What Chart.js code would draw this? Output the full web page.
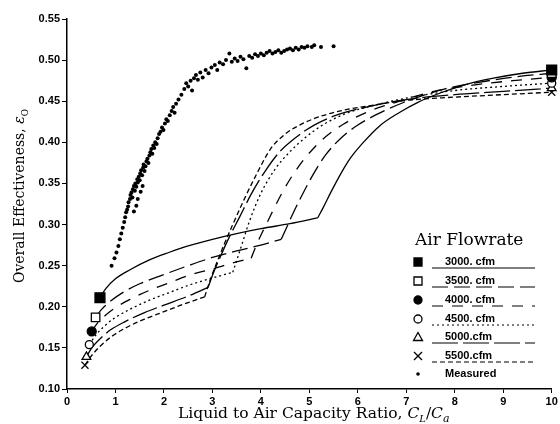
<!DOCTYPE html>
<html>
<head>
<meta charset="utf-8">
<script src="https://cdn.jsdelivr.net/npm/chart.js@4.4.1/dist/chart.umd.min.js"></script>
<style>
  html, body { margin: 0; padding: 0; background: #fff; }
</style>
</head>
<body>
<canvas id="chart" width="560" height="424"></canvas>
<script>
// series
const flowLabels = ['3000. cfm', '3500. cfm', '4000. cfm', '4500. cfm', '5000.cfm', '5500.cfm'];

const x3000 = [0.68, 0.8, 1.0, 1.3, 1.7, 2.1, 2.5, 3.0, 3.5, 4.0, 4.6, 5.17, 5.28, 5.45, 5.65, 5.85, 6.1, 6.45, 6.85, 7.25, 7.7, 8.2, 8.8, 9.4, 10];
const y3000 = [0.211, 0.222, 0.234, 0.245, 0.257, 0.266, 0.274, 0.282, 0.289, 0.295, 0.301, 0.308, 0.320, 0.340, 0.362, 0.381, 0.399, 0.420, 0.436, 0.449, 0.460, 0.470, 0.478, 0.484, 0.488];

const x3500 = [0.59, 0.7, 0.9, 1.2, 1.5, 1.9, 2.5, 3.0, 3.5, 4.0, 4.42, 4.52, 4.65, 4.8, 5.05, 5.34, 5.65, 6.0, 6.5, 7.1, 7.8, 8.6, 9.3, 10];
const y3500 = [0.187, 0.196, 0.207, 0.219, 0.228, 0.237, 0.250, 0.260, 0.268, 0.275, 0.282, 0.295, 0.312, 0.330, 0.358, 0.385, 0.405, 0.421, 0.437, 0.452, 0.465, 0.474, 0.480, 0.484];

const x4000 = [0.51, 0.6, 0.8, 1.0, 1.3, 1.7, 2.1, 2.5, 3.0, 3.4, 3.8, 3.9, 4.05, 4.2, 4.45, 4.7, 4.97, 5.3, 5.7, 6.2, 6.8, 7.5, 8.3, 9.2, 10];
const y4000 = [0.170, 0.178, 0.190, 0.199, 0.209, 0.220, 0.229, 0.238, 0.246, 0.253, 0.259, 0.274, 0.293, 0.311, 0.340, 0.364, 0.385, 0.405, 0.422, 0.437, 0.449, 0.461, 0.469, 0.475, 0.479];

const x4500 = [0.46, 0.6, 0.8, 1.0, 1.3, 1.7, 2.1, 2.5, 3.0, 3.42, 3.5, 3.62, 3.77, 4.0, 4.3, 4.59, 4.9, 5.3, 5.8, 6.4, 7.2, 8.0, 9.0, 10];
const y4500 = [0.154, 0.166, 0.178, 0.187, 0.197, 0.208, 0.217, 0.226, 0.235, 0.242, 0.256, 0.278, 0.305, 0.338, 0.368, 0.388, 0.405, 0.422, 0.436, 0.446, 0.456, 0.463, 0.468, 0.472];

const x5000 = [0.40, 0.5, 0.7, 0.9, 1.2, 1.6, 2.0, 2.5, 2.91, 3.0, 3.15, 3.35, 3.56, 3.8, 4.1, 4.38, 4.7, 5.1, 5.6, 6.2, 7.0, 8.0, 9.0, 10];
const y5000 = [0.139, 0.149, 0.162, 0.172, 0.182, 0.193, 0.202, 0.213, 0.2235, 0.238, 0.259, 0.285, 0.309, 0.337, 0.366, 0.388, 0.405, 0.421, 0.434, 0.443, 0.452, 0.458, 0.462, 0.466];

const x5500 = [0.37, 0.5, 0.7, 0.9, 1.2, 1.6, 2.0, 2.4, 2.84, 2.95, 3.1, 3.25, 3.42, 3.65, 3.9, 4.2, 4.5, 4.8, 5.2, 5.7, 6.3, 7.0, 8.0, 9.0, 10];
const y5500 = [0.129, 0.140, 0.153, 0.163, 0.174, 0.185, 0.194, 0.203, 0.212, 0.232, 0.255, 0.277, 0.300, 0.330, 0.360, 0.392, 0.410, 0.421, 0.431, 0.439, 0.445, 0.451, 0.455, 0.458, 0.461];

// index of the kink (where the curve turns up) in each series
const kinkIndex = [11, 10, 10, 9, 8, 8];

// measured points
const measX = [0.92, 0.98, 1.02, 1.06, 1.09, 1.12, 1.15, 1.18, 1.20, 1.22, 1.24, 1.26, 1.27, 1.30, 1.31, 1.33, 1.35, 1.36, 1.38, 1.40,
  1.41, 1.43, 1.45, 1.46, 1.48, 1.50, 1.51, 1.53, 1.55, 1.57, 1.58, 1.60, 1.62, 1.64, 1.66, 1.68, 1.70, 1.72, 1.74, 1.76,
  1.78, 1.80, 1.82, 1.85, 1.87, 1.90, 1.93, 1.96, 1.99, 2.02, 2.05, 2.08, 2.12, 2.16, 2.19, 2.22, 2.25, 2.30, 2.36, 2.42,
  2.46, 2.50, 2.55, 2.58, 2.62, 2.66, 2.70, 2.75, 2.80, 2.86, 2.92, 2.98, 3.05, 3.10, 3.15, 3.22, 3.28, 3.35, 3.40, 3.46,
  3.52, 3.58, 3.64, 3.70, 3.76, 3.82, 3.88, 3.94, 4.00, 4.06, 4.12, 4.18, 4.24, 4.30, 4.36, 4.42, 4.48, 4.54, 4.60, 4.66,
  4.72, 4.78, 4.84, 4.90, 4.96, 5.05, 5.10, 5.24, 5.50, 1.38, 1.43, 1.46, 1.52, 1.56];
const measY = [0.250, 0.259, 0.266, 0.274, 0.282, 0.289, 0.296, 0.303, 0.309, 0.315, 0.318, 0.322, 0.327, 0.331, 0.336, 0.339, 0.333, 0.343, 0.347, 0.341,
  0.350, 0.346, 0.355, 0.351, 0.358, 0.354, 0.362, 0.366, 0.360, 0.369, 0.373, 0.365, 0.371, 0.377, 0.380, 0.375, 0.384, 0.388, 0.392, 0.386,
  0.396, 0.393, 0.400, 0.398, 0.405, 0.410, 0.413, 0.418, 0.415, 0.423, 0.428, 0.426, 0.433, 0.438, 0.443, 0.436, 0.447, 0.452, 0.458, 0.465,
  0.472, 0.468, 0.475, 0.463, 0.478, 0.482, 0.476, 0.485, 0.479, 0.488, 0.484, 0.491, 0.494, 0.488, 0.497, 0.495, 0.500, 0.508, 0.498, 0.502,
  0.499, 0.504, 0.501, 0.490, 0.505, 0.503, 0.507, 0.505, 0.508, 0.506, 0.509, 0.511, 0.508, 0.510, 0.512, 0.509, 0.511, 0.513, 0.514, 0.512,
  0.515, 0.513, 0.516, 0.515, 0.517, 0.516, 0.518, 0.516, 0.517, 0.316, 0.323, 0.331, 0.340, 0.347];

// line styles / markers per flowrate
const dashes = [[], [16, 6], [11, 9], [2, 3], [26, 5], [5, 3]];
const markers = ['rect', 'rect', 'circle', 'circle', 'triangle', 'crossRot'];
const filled = [true, false, true, false, false, false];
const markerSize = [7, 6, 4.5, 4, 5, 5];

// one piece of a curve; marker only on the outer end
function piece(i, pts, markFirst) {
  var last = pts.length - 1;
  return {
    label: flowLabels[i],
    data: pts,
    borderColor: '#000',
    borderWidth: 1.3,
    borderDash: dashes[i],
    cubicInterpolationMode: 'monotone',
    fill: false,
    pointStyle: markers[i],
    pointRadius: function(ctx) {
      var k = ctx.dataIndex;
      return (markFirst ? k === 0 : k === last) ? markerSize[i] : 0;
    },
    pointBackgroundColor: filled[i] ? '#000' : '#fff',
    pointBorderColor: '#000',
    pointBorderWidth: 1.3,
    clip: false
  };
}

function curve(i, xs, ys) {
  var pts = xs.map(function(x, k) { return { x: x, y: ys[k] }; });
  var c = kinkIndex[i];
  return [piece(i, pts.slice(0, c + 1), true), piece(i, pts.slice(c), false)];
}

var datasets = [].concat(
  curve(0, x3000, y3000),
  curve(1, x3500, y3500),
  curve(2, x4000, y4000),
  curve(3, x4500, y4500),
  curve(4, x5000, y5000),
  curve(5, x5500, y5500),
  [{
    label: 'Measured',
    data: measX.map(function(x, k) { return { x: x, y: measY[k] }; }),
    showLine: false,
    pointStyle: 'circle',
    pointRadius: 2,
    pointBackgroundColor: '#000',
    pointBorderColor: '#000',
    pointBorderWidth: 0
  }]
);

// draw one line of text made of pieces (for subscripts / italics)
function richText(ctx, parts, x, y) {
  var cx = x;
  parts.forEach(function(p) {
    ctx.font = p.font;
    ctx.fillText(p.t, cx, y + (p.dy || 0));
    cx += ctx.measureText(p.t).width;
  });
}
function richWidth(ctx, parts) {
  var w = 0;
  parts.forEach(function(p) { ctx.font = p.font; w += ctx.measureText(p.t).width; });
  return w;
}

function drawMarker(ctx, style, fill, x, y) {
  ctx.save();
  ctx.lineWidth = 1.3;
  ctx.strokeStyle = '#000';
  ctx.fillStyle = fill ? '#000' : '#fff';
  ctx.beginPath();
  if (style === 'rect') {
    ctx.rect(x - 4, y - 4, 8, 8);
    ctx.fill(); ctx.stroke();
  } else if (style === 'circle') {
    ctx.arc(x, y, 4, 0, Math.PI * 2);
    ctx.fill(); ctx.stroke();
  } else if (style === 'triangle') {
    ctx.moveTo(x, y - 4.5); ctx.lineTo(x + 4.5, y + 3.5); ctx.lineTo(x - 4.5, y + 3.5); ctx.closePath();
    ctx.stroke();
  } else if (style === 'crossRot') {
    ctx.moveTo(x - 4, y - 4); ctx.lineTo(x + 4, y + 4);
    ctx.moveTo(x + 4, y - 4); ctx.lineTo(x - 4, y + 4);
    ctx.stroke();
  }
  ctx.restore();
}

const decorations = {
  id: 'decorations',
  afterDraw: function(chart) {
    var ctx = chart.ctx;
    ctx.save();
    ctx.fillStyle = '#000';
    ctx.textBaseline = 'alphabetic';

    // y axis title
    var yParts = [
      { t: 'Overall Effectiveness, ', font: '14px "DejaVu Serif"' },
      { t: 'ε', font: 'italic 14px "DejaVu Serif"' },
      { t: 'O', font: '9px "DejaVu Serif"', dy: 4 }
    ];
    ctx.save();
    ctx.translate(24, 196);
    ctx.rotate(-Math.PI / 2);
    richText(ctx, yParts, -richWidth(ctx, yParts) / 2, 0);
    ctx.restore();

    // x axis title
    var xParts = [
      { t: 'Liquid to Air Capacity Ratio, ', font: '15.5px "DejaVu Serif"' },
      { t: 'C', font: 'italic 15.5px "DejaVu Serif"' },
      { t: 'L', font: 'italic 10px "DejaVu Serif"', dy: 4 },
      { t: '/', font: '15.5px "DejaVu Serif"' },
      { t: 'C', font: 'italic 15.5px "DejaVu Serif"' },
      { t: 'a', font: 'italic 11px "DejaVu Serif"', dy: 4 }
    ];
    richText(ctx, xParts, 178, 418);

    // legend
    ctx.font = '17px "DejaVu Serif"';
    ctx.textBaseline = 'middle';
    ctx.fillText('Air Flowrate', 415, 241);

    var rows = [262, 281, 300, 319, 337, 356];
    ctx.font = 'bold 11px "Liberation Sans"';
    rows.forEach(function(ry, i) {
      drawMarker(ctx, markers[i], filled[i], 418, ry);
      ctx.fillText(flowLabels[i], 445, ry);
      ctx.save();
      ctx.lineWidth = 1.2;
      ctx.setLineDash(dashes[i]);
      ctx.beginPath();
      ctx.moveTo(432, ry + 6);
      ctx.lineTo(535, ry + 6);
      ctx.stroke();
      ctx.restore();
    });
    ctx.beginPath();
    ctx.arc(418, 374, 1.8, 0, Math.PI * 2);
    ctx.fill();
    ctx.fillText('Measured', 445, 374);

    ctx.restore();
  }
};

new Chart(document.getElementById('chart'), {
  type: 'line',
  data: { datasets: datasets },
  options: {
    responsive: false,
    animation: false,
    devicePixelRatio: 1,
    events: [],
    layout: { padding: { left: 0, right: 7, top: 19, bottom: 0 } },
    scales: {
      x: {
        type: 'linear',
        min: 0,
        max: 10,
        ticks: { stepSize: 1, color: '#000', font: { family: 'Liberation Sans', size: 11, weight: 'bold' }, padding: 2 },
        grid: { drawOnChartArea: false, drawTicks: true, tickLength: 4, color: '#000' },
        border: { color: '#000', width: 1.5 },
        afterFit: function(scale) { scale.height = 35; }
      },
      y: {
        min: 0.10,
        max: 0.55,
        ticks: {
          stepSize: 0.05,
          color: '#000',
          font: { family: 'Liberation Sans', size: 11, weight: 'bold' },
          padding: 2,
          callback: function(v) { return Number(v).toFixed(2); }
        },
        grid: { drawOnChartArea: false, drawTicks: true, tickLength: 5, color: '#000' },
        border: { color: '#000', width: 1.5 },
        afterFit: function(scale) { scale.width = 67; }
      }
    },
    plugins: {
      legend: { display: false },
      tooltip: { enabled: false }
    }
  },
  plugins: [decorations]
});
</script>
</body>
</html>
